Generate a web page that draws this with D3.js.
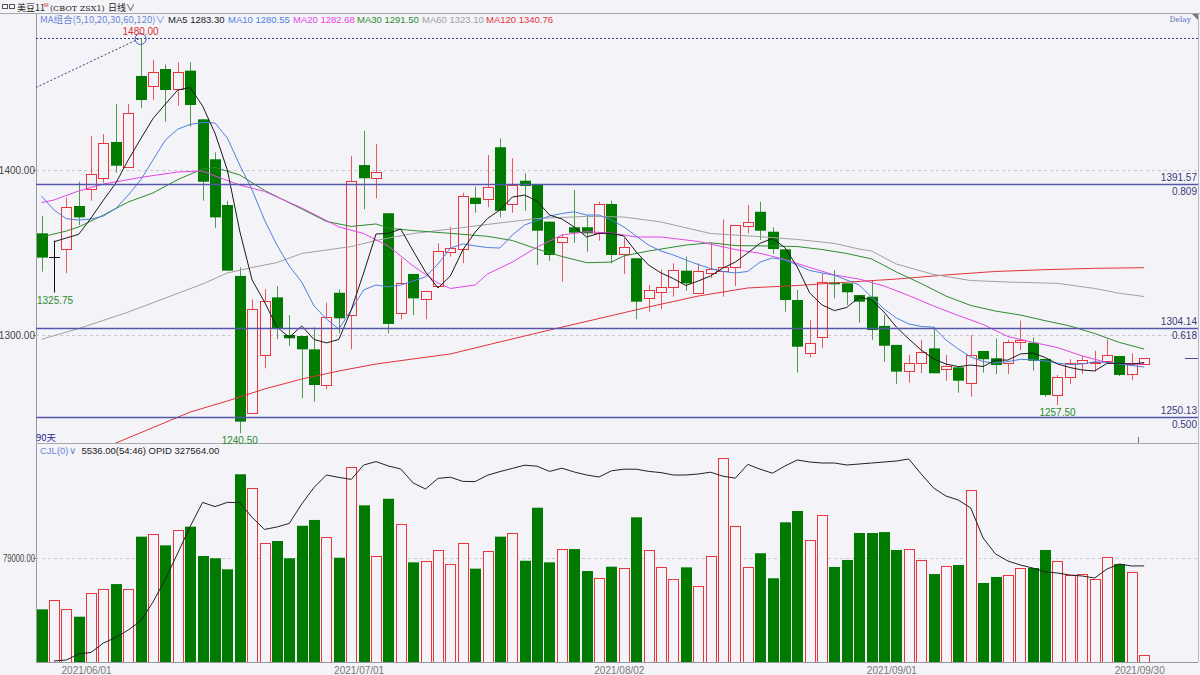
<!DOCTYPE html>
<html>
<head>
<meta charset="utf-8">
<script src="https://cdn.jsdelivr.net/npm/d3@7"></script>
<style>
  body { margin: 0; background: #f4f4f8; }
  svg text { font-family: "Liberation Sans", Arial, sans-serif; }
</style>
</head>
<body>
<div id="chart"></div>
<script>
// ---- data (CBOT soybean Nov-21, daily) ----
const open = [1361.6,1347.0,1351.9,1378.2,1388.3,1395.3,1417.0,1402.0,1457.0,1450.9,
  1461.2,1448.9,1460.2,1430.7,1406.5,1378.8,1335.8,1252.5,1287.9,1322.8,
  1300.0,1299.4,1291.3,1269.7,1325.6,1312.1,1403.0,1395.3,1373.8,1313.1,
  1337.0,1321.6,1329.9,1350.5,1351.9,1383.2,1382.2,1413.8,1379.4,1393.5,
  1390.9,1368.7,1356.6,1365.3,1365.3,1361.6,1379.4,1349.1,1346.5,1322.2,
  1326.2,1329.3,1339.0,1325.6,1337.4,1339.0,1341.0,1366.2,1374.7,1362.6,
  1351.9,1321.2,1288.9,1299.0,1331.9,1331.3,1324.2,1323.2,1305.5,1294.0,
  1278.4,1282.8,1291.9,1279.4,1280.4,1270.7,1290.3,1285.9,1283.2,1295.6,
  1295.3,1285.5,1263.6,1274.7,1282.8,1283.3,1284.2,1287.3,1276.4,1282.4];
const high = [1372.3,1357.2,1383.2,1392.9,1420.6,1421.8,1440.0,1440.0,1480.0,1466.7,
  1464.0,1465.3,1465.3,1430.7,1410.7,1381.4,1341.0,1321.6,1327.7,1329.7,
  1312.1,1299.4,1304.7,1319.6,1327.7,1408.5,1423.8,1415.8,1373.8,1346.5,
  1337.0,1326.8,1355.6,1365.6,1386.2,1389.9,1409.1,1419.2,1407.1,1398.0,
  1390.9,1368.7,1361.2,1387.9,1372.7,1380.8,1381.4,1358.6,1346.5,1330.3,
  1339.8,1343.5,1347.5,1343.5,1355.9,1370.1,1366.7,1378.8,1380.8,1365.3,
  1351.9,1327.3,1309.1,1337.4,1339.4,1331.3,1324.2,1333.3,1312.1,1294.0,
  1287.9,1297.0,1305.0,1287.9,1280.4,1300.0,1290.3,1298.0,1297.0,1308.7,
  1298.6,1285.5,1275.8,1285.3,1287.3,1290.5,1297.4,1287.3,1288.9,1285.9];
const low = [1338.4,1325.75,1337.4,1366.7,1381.4,1392.3,1398.4,1402.0,1437.4,1442.4,
  1429.3,1438.8,1426.2,1381.4,1365.0,1339.0,1240.5,1252.5,1279.8,1297.4,
  1293.3,1261.6,1259.6,1267.1,1301.0,1291.3,1376.2,1382.8,1301.0,1309.5,
  1312.1,1309.5,1329.9,1347.5,1343.5,1374.1,1377.4,1371.3,1374.1,1375.3,
  1342.4,1345.0,1332.3,1355.9,1350.5,1357.2,1343.5,1337.0,1309.5,1314.1,
  1315.6,1323.2,1326.8,1325.6,1334.4,1323.2,1329.7,1361.6,1357.6,1349.1,
  1314.1,1277.2,1286.5,1292.0,1322.2,1318.2,1307.5,1297.0,1283.8,1270.3,
  1271.1,1276.8,1276.8,1272.3,1265.0,1262.6,1277.2,1276.4,1276.4,1290.9,
  1278.4,1262.6,1257.5,1270.3,1276.4,1277.8,1283.2,1275.2,1272.7,1282.4];
const close = [1346.9,1347.0,1377.8,1371.3,1397.4,1416.5,1402.6,1434.4,1442.4,1459.6,
  1448.5,1459.6,1439.4,1392.9,1371.3,1339.0,1247.5,1315.6,1320.8,1304.1,
  1298.0,1291.3,1269.7,1311.1,1310.1,1393.5,1395.0,1398.6,1306.7,1331.3,
  1322.2,1326.8,1351.1,1352.5,1384.2,1379.4,1389.5,1375.3,1390.9,1390.3,
  1363.2,1348.5,1359.2,1362.0,1361.6,1379.4,1348.5,1353.2,1320.2,1327.3,
  1328.9,1339.4,1331.3,1338.8,1339.8,1341.4,1366.7,1368.7,1363.2,1352.1,
  1321.2,1292.9,1295.0,1331.9,1330.7,1325.9,1320.2,1303.0,1293.5,1277.8,
  1282.8,1289.9,1276.8,1281.2,1272.3,1287.9,1285.3,1281.8,1295.9,1297.0,
  1284.4,1263.6,1274.4,1283.2,1284.8,1283.8,1287.9,1275.8,1283.2,1285.9];
// CJL volume and open interest
const volume = [40000,47100,40300,34400,52600,55200,59200,55200,95200,97000,
  88600,100300,102800,80500,78800,70400,142600,131900,90200,91900,
  78800,103500,107900,94700,79200,147900,119000,80300,124000,104600,
  75700,76900,85100,74200,90200,70900,84500,95200,97800,76900,
  117200,75700,85600,85800,69100,63600,72400,71200,109900,85100,
  71900,62800,71900,58000,80700,154700,103300,72400,82600,63600,
  106100,114700,92700,111700,72200,77500,98000,98000,98700,85100,
  85800,77500,66800,72900,73700,130700,60000,64600,66100,71400,
  71400,85100,76700,66100,66800,63000,79800,74400,68400,5536];
const openInt = [null,280000,280500,283500,284300,289000,291800,295500,300000,309500,
  321000,334000,347300,359300,357200,359300,359200,351800,345800,347000,
  348800,358500,366800,373000,371800,370800,378000,379700,377500,376000,
  369000,366000,371300,371900,369800,369700,372900,374700,376300,377900,
  377400,374800,376400,374500,373000,372000,375100,375900,375900,374800,
  374200,373000,373000,373500,374400,372400,371400,378300,375900,373900,
  377500,380500,379500,379000,379000,378000,378500,379000,379500,380000,
  381000,373500,366500,362500,360500,356500,341500,333500,330000,328000,
  326500,324500,324000,323000,322500,321500,326000,328500,327500,327564];

// moving averages as drawn
const ma5 = [null,1356.5,1358.8,1361.0,1370.9,1381.8,1392.1,1406.1,1418.8,1431.2,1440.0,
  1448.5,1450.0,1438.8,1422.4,1400.0,1363.0,1333.3,1320.0,1304.8,1298.6,
  1305.5,1297.3,1295.2,1297.3,1315.2,1337.6,1361.2,1361.6,1364.2,1350.9,
  1338.2,1328.5,1335.8,1351.5,1362.4,1370.6,1375.8,1383.6,1384.8,1381.2,
  1372.7,1370.3,1365.5,1359.4,1361.6,1361.6,1360.0,1350.3,1342.4,1337.6,
  1334.2,1330.0,1332.7,1335.8,1340.6,1344.2,1349.7,1355.6,1358.5,1353.0,
  1341.2,1325.5,1318.2,1314.8,1316.7,1323.0,1321.2,1313.9,1304.8,1297.6,
  1290.9,1285.5,1282.4,1280.8,1281.8,1280.9,1284.8,1284.8,1288.5,1289.1,
  1286.4,1282.4,1280.3,1278.8,1278.2,1282.8,1282.8,1282.4,1283.3];
const ma10 = [1384.2,1375.8,1370.5,1369.7,1370.3,1372.1,1376.7,1384.8,1393.9,1406.1,
  1418.2,1424.8,1427.6,1428.8,1428.5,1419.4,1403.0,1387.9,1369.7,1354.5,
  1341.8,1332.1,1317.6,1309.7,1303.6,1315.2,1327.3,1330.3,1329.1,1330.3,
  1332.7,1335.2,1343.0,1352.7,1355.2,1354.0,1353.0,1352.7,1360.6,1366.7,
  1369.4,1372.1,1373.6,1374.7,1372.7,1372.7,1369.7,1365.5,1360.0,1354.5,
  1350.9,1348.5,1345.5,1342.7,1340.3,1338.5,1337.6,1338.5,1344.2,1346.7,
  1345.5,1342.4,1339.1,1337.6,1336.2,1333.3,1330.3,1323.0,1315.8,1310.3,
  1306.7,1305.2,1304.7,1297.0,1291.5,1286.7,1283.9,1283.0,1283.9,1285.2,
  1285.0,1284.2,1283.0,1282.1,1282.4,1283.8,1283.3,1282.4,1281.5,1280.6];
// slower averages: [day index, value]
const ma20 = [[0,1380.2],[1,1381.8],[3,1387.3],[5,1391.5],[8,1395.5],[11,1398.8],[13,1399.4],
  [14,1396.4],[16,1390.9],[18,1387.0],[21,1377.0],[24,1365.5],[26,1361.5],[28,1353.9],
  [30,1341.8],[32,1331.5],[33,1328.2],[35,1330.3],[36,1337.0],[38,1344.2],[40,1353.3],
  [42,1360.6],[44,1362.6],[46,1361.8],[48,1359.4],[50,1359.4],[53,1356.7],[56,1351.8],
  [58,1349.5],[60,1345.8],[62,1340.9],[64,1336.4],[66,1333.9],[68,1329.7],[70,1323.9],
  [72,1317.6],[74,1311.8],[76,1306.4],[78,1299.1],[80,1295.6],[82,1292.4],[84,1287.3],
  [86,1283.3],[88,1282.0],[89,1282.7]];
const ma30 = [[0,1359.4],[2,1363.0],[3,1365.5],[5,1372.7],[7,1380.6],[9,1386.1],[11,1394.2],
  [13,1400.6],[14,1401.5],[16,1397.0],[18,1387.6],[21,1376.4],[23,1368.8],[25,1365.8],
  [27,1367.3],[28,1364.8],[30,1363.3],[33,1361.6],[36,1359.8],[38,1357.3],[40,1352.1],
  [42,1347.6],[44,1343.8],[46,1344.2],[47,1347.9],[49,1350.9],[52,1354.5],[54,1355.9],
  [56,1354.2],[59,1353.9],[61,1353.6],[63,1351.8],[65,1349.4],[67,1346.1],[69,1338.2],
  [71,1331.2],[73,1323.6],[75,1317.9],[77,1314.5],[79,1312.1],[81,1308.7],[83,1305.5],
  [85,1300.9],[87,1295.5],[89,1291.5]];
const ma60 = [[0,1297.4],[3,1303.9],[7,1313.9],[10,1322.4],[13,1330.9],[15,1337.6],[17,1340.9],
  [19,1343.9],[21,1349.4],[25,1353.6],[27,1357.3],[30,1361.5],[33,1364.2],[36,1367.0],
  [40,1370.6],[44,1371.9],[47,1371.5],[50,1368.5],[54,1361.5],[58,1359.6],[61,1357.9],
  [64,1355.5],[66,1352.1],[67,1350.9],[69,1343.0],[72,1336.7],[75,1333.0],[78,1332.1],
  [82,1331.3],[85,1328.2],[87,1325.3],[89,1323.3]];
const ma120 = [[4,1228.5],[6,1234.5],[9,1243.9],[12,1253.3],[15,1260.0],[18,1267.3],[21,1273.3],
  [24,1278.2],[27,1282.4],[30,1285.5],[33,1288.5],[37,1295.8],[41,1303.0],[45,1310.0],
  [49,1317.0],[53,1323.6],[57,1328.5],[61,1330.0],[65,1332.0],[69,1333.9],[73,1336.4],
  [77,1338.5],[81,1339.6],[85,1340.4],[89,1340.8]];

const maNames = ["MA5", "MA10", "MA20", "MA30", "MA60", "MA120"];
const maLast = ["1283.30", "1280.55", "1282.68", "1291.50", "1323.10", "1340.76"];
const fibPrices = [1391.57, 1304.14, 1250.13];
const fibRatios = ["0.809", "0.618", "0.500"];
const priceTicks = [1300, 1400];
const volTicks = [79000];
const dateTickIdx = [4, 26, 47, 69, 89];
const dateTickLabels = ["2021/06/01", "2021/07/01", "2021/08/02", "2021/09/01", "2021/09/30"];
const peakIdx = 8, lowIdx = 16, firstLowIdx = 1, lastLowIdx = 82;

// ---- layout ----
const W = 1200, H = 675;
const left = 36, right = 1198;
const priceTop = 14, priceBottom = 443, volBottom = 662;

const bg = "#f4f4f8", red = "#e8343c", green = "#007a00";
const maColors = ["#1a1a1a", "#4f7fe0", "#e545e5", "#2e8b2e", "#a0a0a0", "#e2333b"];
const legendX = [168, 228, 293, 357, 422, 486];

const svg = d3.select("#chart").append("svg")
  .attr("width", W).attr("height", H)
  .style("background", bg);

const x = d3.scaleLinear().domain([0, 89]).range([41.5, 1144.2]);
const y = d3.scaleLinear().domain([1300, 1400]).range([335, 170]);
const yVol = d3.scaleLinear().domain([0, 79000]).range([volBottom, 558]);
const yOI = d3.scaleLinear().domain([279500, 388500]).range([volBottom, priceBottom + 1]);

const px = i => Math.round(x(i));

// clip paths for the two panels
const defs = svg.append("defs");
defs.append("clipPath").attr("id", "clipPrice").append("rect")
  .attr("x", left).attr("y", priceTop).attr("width", right - left).attr("height", priceBottom - priceTop);
defs.append("clipPath").attr("id", "clipVol").append("rect")
  .attr("x", left).attr("y", priceBottom + 1).attr("width", right - left).attr("height", volBottom - priceBottom - 1);

// ---- header ----
svg.append("line").attr("x1", 0).attr("x2", W).attr("y1", 13.5).attr("y2", 13.5)
  .attr("stroke", "#a8a8b0");
[2, 9].forEach(x0 => svg.append("rect").attr("x", x0 + 0.5).attr("y", 4.5).attr("width", 5).attr("height", 4)
  .attr("fill", "none").attr("stroke", "#555"));
svg.append("text").attr("x", 17).attr("y", 11).style("font-family", "'Noto Sans CJK SC'")
  .style("font-size", "9px").attr("fill", "#222").text("美豆11");
svg.append("text").attr("x", 44).attr("y", 7).style("font-size", "5.5px").attr("fill", "#c03030").text("M");
svg.append("text").attr("x", 50).attr("y", 11).style("font-family", "'DejaVu Serif'")
  .style("font-size", "8px").attr("fill", "#222").text("(CBOT ZSX1)");
svg.append("text").attr("x", 108).attr("y", 11).style("font-family", "'Noto Sans CJK SC'")
  .style("font-size", "9px").attr("fill", "#222").text("日线∨");
svg.append("path").attr("d", `M1192,14 L1199,14 L1199,21 Z`).attr("fill", "#777");

// legend
svg.append("text").attr("x", 40).attr("y", 23).style("font-size", "9.5px")
  .style("font-family", "'Noto Sans CJK SC'").attr("fill", "#6a86d6").text("MA组合(5,10,20,30,60,120)∨");
maNames.forEach((n, k) => {
  svg.append("text").attr("x", legendX[k]).attr("y", 23).style("font-size", "9.5px")
    .attr("fill", k === 0 ? "#222" : maColors[k]).text(n + " " + maLast[k]);
});
svg.append("text").attr("x", 1191).attr("y", 22).attr("text-anchor", "end")
  .style("font-family", "'DejaVu Serif'").style("font-size", "7.5px").attr("fill", "#5a70c0").text("Delay");

// ---- frame / axes ----
svg.append("line").attr("x1", left + 0.5).attr("x2", left + 0.5).attr("y1", 14).attr("y2", volBottom)
  .attr("stroke", "#9a9aa2");
svg.append("line").attr("x1", right + 0.5).attr("x2", right + 0.5).attr("y1", 14).attr("y2", volBottom)
  .attr("stroke", "#b8b8c0");
svg.append("line").attr("x1", left).attr("x2", right).attr("y1", priceBottom + 0.5).attr("y2", priceBottom + 0.5)
  .attr("stroke", "#a8a8b0");
svg.append("line").attr("x1", left).attr("x2", right).attr("y1", volBottom + 0.5).attr("y2", volBottom + 0.5)
  .attr("stroke", "#9a9aa2");

// dashed grid
svg.append("g").selectAll("line").data(priceTicks).join("line")
  .attr("x1", left).attr("x2", right).attr("y1", d => Math.round(y(d)) + 0.5).attr("y2", d => Math.round(y(d)) + 0.5)
  .attr("stroke", "#c8c8d0").attr("stroke-dasharray", "3,3");
svg.append("g").selectAll("line").data(volTicks).join("line")
  .attr("x1", left).attr("x2", right).attr("y1", d => Math.round(yVol(d)) + 0.5).attr("y2", d => Math.round(yVol(d)) + 0.5)
  .attr("stroke", "#c8c8d0").attr("stroke-dasharray", "3,3");

const gPA = svg.append("g").attr("transform", `translate(${left},0)`)
  .call(d3.axisLeft(y).tickValues(priceTicks).tickSize(3).tickFormat(d => d.toFixed(2)));
const gVA = svg.append("g").attr("transform", `translate(${left},0)`)
  .call(d3.axisLeft(yVol).tickValues(volTicks).tickSize(3).tickFormat(d => d.toFixed(2)));
[gPA, gVA].forEach(g => {
  g.select(".domain").remove();
  g.selectAll(".tick line").attr("stroke", "#888");
  g.selectAll("text").attr("x", -1).style("font-size", "10px").attr("fill", "#444");
});
// the volume label is squeezed into the margin as in the original
gVA.selectAll("text").attr("textLength", 32).attr("lengthAdjust", "spacingAndGlyphs");

const gX = svg.append("g").attr("transform", `translate(0,${volBottom})`)
  .call(d3.axisBottom(x).tickValues(dateTickIdx).tickSize(0).tickFormat((d, k) => dateTickLabels[k]));
gX.select(".domain").remove();
gX.selectAll("text").attr("dx", -5).attr("dy", 9).style("font-size", "10px").attr("fill", "#777");
svg.append("line").attr("x1", px(89) - 5.5).attr("x2", px(89) - 5.5).attr("y1", 437).attr("y2", priceBottom)
  .attr("stroke", "#777");

// ---- price panel ----
const pricePanel = svg.append("g").attr("clip-path", "url(#clipPrice)");

// 1480 high level (dotted) and trend line to it
pricePanel.append("line").attr("x1", left).attr("x2", right)
  .attr("y1", Math.round(y(high[peakIdx])) + 0.5).attr("y2", Math.round(y(high[peakIdx])) + 0.5)
  .attr("stroke", "#3a3a80").attr("stroke-dasharray", "2,2");
pricePanel.append("line")
  .attr("x1", x(-0.45)).attr("y1", y(1450)).attr("x2", x(peakIdx)).attr("y2", y(high[peakIdx]))
  .attr("stroke", "#3a3a80").attr("stroke-dasharray", "2,2");

// fibonacci levels
fibPrices.forEach((p, k) => {
  const yy = Math.round(y(p));
  svg.append("line").attr("x1", left).attr("x2", right).attr("y1", yy + 0.5).attr("y2", yy + 0.5)
    .attr("stroke", "#5656a8").attr("stroke-width", 1.6);
  svg.append("text").attr("x", 1197).attr("y", yy - 3).attr("text-anchor", "end")
    .style("font-size", "10px").attr("fill", "#3a3a7a").text(p.toFixed(2));
  svg.append("text").attr("x", 1197).attr("y", yy + 11).attr("text-anchor", "end")
    .style("font-size", "10px").attr("fill", "#3a3a7a").text(fibRatios[k]);
});
// last price marker
svg.append("line").attr("x1", 1185).attr("x2", 1198).attr("y1", Math.round(y(close[89])) + 0.5)
  .attr("y2", Math.round(y(close[89])) + 0.5).attr("stroke", "#4a4aa8");

// candles
const idx = d3.range(open.length);
const candles = pricePanel.append("g").selectAll("g").data(idx).join("g");
const wickColor = i => close[i] > open[i] ? "#e85a60" : close[i] < open[i] ? "#4f9a4f" : "#111";
candles.append("line")
  .attr("x1", i => px(i) + 0.5).attr("x2", i => px(i) + 0.5)
  .attr("y1", i => y(high[i])).attr("y2", i => y(low[i]))
  .attr("stroke", wickColor);
candles.filter(i => close[i] < open[i]).append("rect")
  .attr("x", i => px(i) - 5).attr("width", 11)
  .attr("y", i => y(open[i])).attr("height", i => Math.max(1, y(close[i]) - y(open[i])))
  .attr("fill", green);
candles.filter(i => close[i] > open[i]).append("rect")
  .attr("x", i => px(i) - 4.5).attr("width", 10)
  .attr("y", i => Math.round(y(close[i])) + 0.5)
  .attr("height", i => Math.max(1, Math.round(y(open[i])) - Math.round(y(close[i]))))
  .attr("fill", bg).attr("stroke", red);
candles.filter(i => close[i] === open[i]).append("line")
  .attr("x1", i => px(i) - 5).attr("x2", i => px(i) + 6)
  .attr("y1", i => Math.round(y(close[i])) + 0.5).attr("y2", i => Math.round(y(close[i])) + 0.5)
  .attr("stroke", "#111");

// moving averages
const lineIdx = d3.line().defined(d => d != null).x((d, i) => x(i)).y(d => y(d));
const linePairs = d3.line().x(d => x(d[0])).y(d => y(d[1]));
[[ma120, 5], [ma60, 4], [ma30, 3], [ma20, 2]].forEach(([arr, k]) => {
  pricePanel.append("path").attr("d", linePairs(arr)).attr("fill", "none")
    .attr("stroke", maColors[k]).attr("stroke-width", 1);
});
pricePanel.append("path").attr("d", lineIdx(ma10)).attr("fill", "none").attr("stroke", maColors[1]);
pricePanel.append("path").attr("d", lineIdx(ma5)).attr("fill", "none").attr("stroke", maColors[0]);

// high / low annotations
pricePanel.append("circle").attr("cx", x(peakIdx)).attr("cy", y(high[peakIdx]) + 1).attr("r", 5.5)
  .attr("fill", "none").attr("stroke", "#4060c0");
svg.append("text").attr("x", x(peakIdx)).attr("y", y(high[peakIdx]) - 3).attr("text-anchor", "middle")
  .style("font-size", "10px").attr("fill", "#d83030").text(high[peakIdx].toFixed(2));
[firstLowIdx, lowIdx, lastLowIdx].forEach(i => {
  svg.append("text").attr("x", i === firstLowIdx ? 37 : x(i)).attr("y", y(low[i]) + 11)
    .attr("text-anchor", i === firstLowIdx ? "start" : "middle")
    .style("font-size", "10px").attr("fill", "#2c8a2c").text(low[i].toFixed(2));
});
svg.append("text").attr("x", 36).attr("y", 441).style("font-family", "'Noto Sans CJK SC'")
  .style("font-size", "9.5px").attr("fill", "#2a2a8a").text("90天");

// ---- volume panel ----
const volPanel = svg.append("g").attr("clip-path", "url(#clipVol)");
const volHdr = svg.append("text").attr("x", 40).attr("y", 454).style("font-size", "9.5px");
volHdr.append("tspan").attr("fill", "#6a86d6").text("CJL(0)∨");
volHdr.append("tspan").attr("dx", 6).attr("fill", "#222")
  .text(volume[89].toFixed(2) + "(54:46)  OPID " + openInt[89].toFixed(2));

const bars = volPanel.append("g").selectAll("g").data(idx).join("g");
bars.filter(i => close[i] < open[i]).append("rect")
  .attr("x", i => px(i) - 5).attr("width", 11)
  .attr("y", i => yVol(volume[i])).attr("height", i => volBottom - yVol(volume[i]))
  .attr("fill", green);
bars.filter(i => close[i] >= open[i]).append("rect")
  .attr("x", i => px(i) - 4.5).attr("width", 10)
  .attr("y", i => Math.round(yVol(volume[i])) + 0.5)
  .attr("height", i => volBottom - Math.round(yVol(volume[i])))
  .attr("fill", bg).attr("stroke", red);

const oiLine = d3.line().defined(d => d != null).x((d, i) => x(i)).y(d => yOI(d));
volPanel.append("path").attr("d", oiLine(openInt)).attr("fill", "none").attr("stroke", "#222");
</script>
</body>
</html>
